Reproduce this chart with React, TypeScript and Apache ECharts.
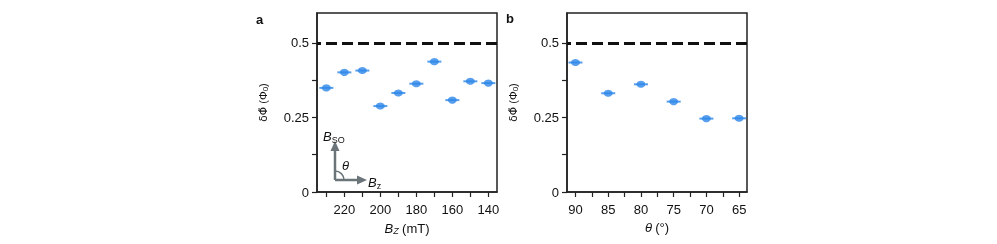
import React, { useEffect, useRef } from "react";
import * as echarts from "echarts";

const bzValues = [230, 220, 210, 200, 190, 180, 170, 160, 150, 140];
const bzPhi = [0.349, 0.401, 0.407, 0.288, 0.332, 0.363, 0.437, 0.308, 0.371, 0.365];
const bzTicks = [140, 150, 160, 170, 180, 190, 200, 210, 220, 230];
const bzLabels = [140, 160, 180, 200, 220];

const thetaValues = [90, 85, 80, 75, 70, 65];
const thetaPhi = [0.434, 0.331, 0.361, 0.303, 0.246, 0.247];
const thetaTicks = [65, 67.5, 70, 72.5, 75, 77.5, 80, 82.5, 85, 87.5, 90];
const thetaLabels = [65, 70, 75, 80, 85, 90];

const yTicks = [0, 0.125, 0.25, 0.375, 0.5];
const yLabels = [0, 0.25, 0.5];
const halfLevel = 0.5;

const FONT = "Liberation Sans";
const BLUE = "#2d87e8";
const GRAY = "#6b7479";

export default function App() {
  const ref = useRef<HTMLDivElement>(null);
  useEffect(() => {
    if (!ref.current) return;
    const chart = echarts.init(ref.current, null, { renderer: "svg" });
    const grids = [
      { left: 317, top: 13, width: 180, height: 179 },
      { left: 567, top: 13, width: 180, height: 179 },
    ];
    const yAxisBase = (gi: number) => ({
      type: "value",
      gridIndex: gi,
      min: 0,
      max: 0.6,
      name: "{d|δΦ\u0303 }{p|(Φ}{s|0}{p|)}",
      nameLocation: "middle",
      nameGap: 48,
      nameRotate: 90,
      nameTextStyle: {
        rich: {
          d: { fontFamily: "DejaVu Sans", fontSize: 10.5, color: "#111" },
          p: { fontFamily: FONT, fontSize: 11, color: "#111" },
          s: { fontFamily: FONT, fontSize: 8, color: "#111", verticalAlign: "bottom", padding: [4, 0, 0, 0] },
        },
      },
      axisLine: { show: true, lineStyle: { color: "#222", width: 1.5 } },
      axisTick: { show: true, length: 5, lineStyle: { color: "#222", width: 1.2 }, customValues: yTicks },
      axisLabel: { fontFamily: FONT, fontSize: 13, color: "#111", margin: 8, customValues: yLabels },
      splitLine: { show: false },
    });
    const xName = {
      b: { fontFamily: FONT, fontSize: 13, fontStyle: "italic", color: "#111" },
      s: { fontFamily: FONT, fontSize: 9, fontStyle: "italic", color: "#111", verticalAlign: "bottom", padding: [5, 0, 0, 0] },
      t: { fontFamily: FONT, fontSize: 13, color: "#111" },
    };
    const option: any = {
      animation: false,
      grid: grids.map((g) => ({ ...g, show: true, borderColor: "#222", borderWidth: 1.5, backgroundColor: "transparent" })),
      xAxis: [
        {
          type: "value",
          gridIndex: 0,
          min: 135.2,
          max: 235.2,
          inverse: true,
          name: "{b|B}{s|Z} {t|(mT)}",
          nameLocation: "middle",
          nameGap: 29,
          nameTextStyle: { rich: xName },
          axisLine: { show: true, onZero: false, lineStyle: { color: "#222", width: 1.5 } },
          axisTick: { show: true, length: 5, lineStyle: { color: "#222", width: 1.2 }, customValues: bzTicks },
          axisLabel: { fontFamily: FONT, fontSize: 13, color: "#111", margin: 11, customValues: bzLabels },
          splitLine: { show: false },
        },
        {
          type: "value",
          gridIndex: 1,
          min: 63.8,
          max: 91.3,
          inverse: true,
          name: "{b|θ} {t|(°)}",
          nameLocation: "middle",
          nameGap: 29,
          nameTextStyle: { rich: xName },
          axisLine: { show: true, onZero: false, lineStyle: { color: "#222", width: 1.5 } },
          axisTick: { show: true, length: 5, lineStyle: { color: "#222", width: 1.2 }, customValues: thetaTicks },
          axisLabel: { fontFamily: FONT, fontSize: 13, color: "#111", margin: 11, customValues: thetaLabels },
          splitLine: { show: false },
        },
      ],
      yAxis: [yAxisBase(0), yAxisBase(1)],
      series: [
        {
          type: "scatter",
          xAxisIndex: 0,
          yAxisIndex: 0,
          symbol: "rect",
          symbolSize: [14, 2],
          itemStyle: { color: BLUE },
          data: bzValues.map((x, i) => [x, bzPhi[i]]),
          markLine: {
            silent: true,
            symbol: "none",
            label: { show: false },
            lineStyle: { color: "#111", width: 3, type: [11, 5] },
            data: [{ yAxis: halfLevel }],
          },
        },
        {
          type: "scatter",
          xAxisIndex: 0,
          yAxisIndex: 0,
          symbol: "circle",
          symbolSize: [9, 7],
          itemStyle: { color: BLUE },
          data: bzValues.map((x, i) => [x, bzPhi[i]]),
        },
        {
          type: "scatter",
          xAxisIndex: 1,
          yAxisIndex: 1,
          symbol: "rect",
          symbolSize: [14, 2],
          itemStyle: { color: BLUE },
          data: thetaValues.map((x, i) => [x, thetaPhi[i]]),
          markLine: {
            silent: true,
            symbol: "none",
            label: { show: false },
            lineStyle: { color: "#111", width: 3, type: [11, 5] },
            data: [{ yAxis: halfLevel }],
          },
        },
        {
          type: "scatter",
          xAxisIndex: 1,
          yAxisIndex: 1,
          symbol: "circle",
          symbolSize: [9, 7],
          itemStyle: { color: BLUE },
          data: thetaValues.map((x, i) => [x, thetaPhi[i]]),
        },
      ],
      graphic: [
        { type: "text", left: 256, top: 13, style: { text: "a", fontFamily: FONT, fontSize: 13, fontWeight: "bold", fill: "#111" } },
        { type: "text", left: 506, top: 12, style: { text: "b", fontFamily: FONT, fontSize: 13, fontWeight: "bold", fill: "#111" } },
        { type: "line", shape: { x1: 335, y1: 180, x2: 335, y2: 149 }, style: { stroke: GRAY, lineWidth: 2.5 } },
        { type: "polygon", shape: { points: [[335, 141], [330.5, 151], [339.5, 151]] }, style: { fill: GRAY } },
        { type: "line", shape: { x1: 335, y1: 180, x2: 357, y2: 180 }, style: { stroke: GRAY, lineWidth: 2.5 } },
        { type: "polygon", shape: { points: [[367, 180], [357, 175.5], [357, 184.5]] }, style: { fill: GRAY } },
        { type: "arc", shape: { cx: 335, cy: 180, r: 9, startAngle: -Math.PI / 2, endAngle: 0, clockwise: true }, style: { stroke: GRAY, lineWidth: 1.5, fill: "none" } },
        {
          type: "text",
          x: 323,
          y: 129,
          style: {
            text: "{b|B}{s|SO}",
            rich: {
              b: { fontFamily: FONT, fontSize: 13, fontStyle: "italic", fill: "#111" },
              s: { fontFamily: FONT, fontSize: 9, fill: "#111", verticalAlign: "bottom", padding: [6, 0, 0, 0] },
            },
          },
        },
        { type: "text", x: 342, y: 159, style: { text: "θ", fontFamily: FONT, fontSize: 13, fontStyle: "italic", fill: "#111" } },
        {
          type: "text",
          x: 368,
          y: 175,
          style: {
            text: "{b|B}{s|z}",
            rich: {
              b: { fontFamily: FONT, fontSize: 13, fontStyle: "italic", fill: "#111" },
              s: { fontFamily: FONT, fontSize: 9, fill: "#111", verticalAlign: "bottom", padding: [6, 0, 0, 0] },
            },
          },
        },
      ],
    };
    chart.setOption(option);
    return () => chart.dispose();
  }, []);
  return <div ref={ref} style={{ position: "fixed", left: 0, top: 0, width: 997, height: 244 }} />;
}
